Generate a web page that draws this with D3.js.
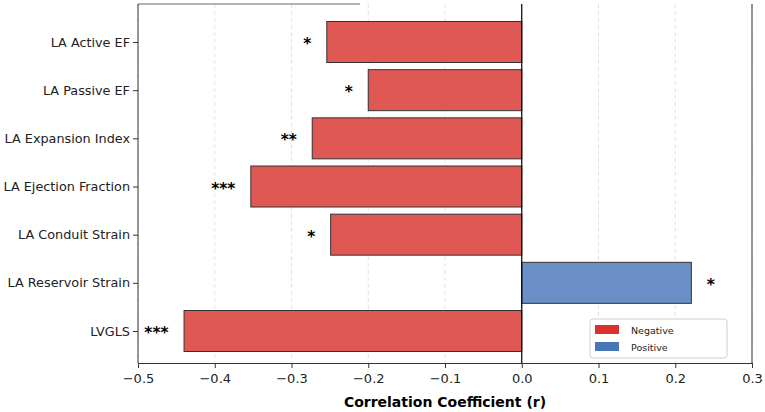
<!DOCTYPE html>
<html>
<head>
<meta charset="utf-8">
<script src="https://cdn.jsdelivr.net/npm/d3@7"></script>
<style>
  body { margin: 0; background: #fff; }
  svg { font-family: "DejaVu Sans", sans-serif; }
</style>
</head>
<body>
<div id="chart"></div>
<script>
// data
const labels = ["LA Active EF", "LA Passive EF", "LA Expansion Index", "LA Ejection Fraction",
                "LA Conduit Strain", "LA Reservoir Strain", "LVGLS"];
const values = [-0.254, -0.200, -0.273, -0.353, -0.249, 0.221, -0.440];
const stars = ["*", "*", "**", "***", "*", "*", "***"];
const xTicks = [-0.5, -0.4, -0.3, -0.2, -0.1, 0.0, 0.1, 0.2, 0.3];

const width = 765;
const height = 412;
const plot = { left: 138, right: 752, top: 4, bottom: 363 };
const font = "DejaVu Sans, sans-serif";

const svg = d3.select("#chart").append("svg")
  .attr("width", width)
  .attr("height", height);

const xScale = d3.scaleLinear().domain([-0.5, 0.3]).range([plot.left, plot.right]);
const yScale = d3.scaleLinear().domain([0, 6]).range([42, 331]);
const barH = 41;

// grid
svg.append("g")
  .selectAll("line")
  .data(xTicks)
  .join("line")
  .attr("x1", d => xScale(d)).attr("x2", d => xScale(d))
  .attr("y1", plot.top).attr("y2", plot.bottom)
  .attr("stroke", "#dcdcdc")
  .attr("stroke-dasharray", "4,3")
  .attr("stroke-width", 0.8);

// bars
svg.append("g")
  .selectAll("rect")
  .data(values)
  .join("rect")
  .attr("x", d => xScale(Math.min(0, d)))
  .attr("y", (d, i) => yScale(i) - barH / 2)
  .attr("width", d => Math.abs(xScale(d) - xScale(0)))
  .attr("height", barH)
  .attr("fill", d => d < 0 ? "#e05853" : "#6a8fc6")
  .attr("stroke", "#333")
  .attr("stroke-width", 1);

// significance stars
svg.append("g")
  .selectAll("text")
  .data(values)
  .join("text")
  .attr("x", d => d < 0 ? xScale(d - 0.02) : xScale(d + 0.02))
  .attr("y", (d, i) => yScale(i) + 7)
  .attr("text-anchor", d => d < 0 ? "end" : "start")
  .attr("font-size", 15.5)
  .attr("font-weight", "bold")
  .text((d, i) => stars[i]);

// zero line
svg.append("line")
  .attr("x1", xScale(0)).attr("x2", xScale(0))
  .attr("y1", plot.top).attr("y2", plot.bottom)
  .attr("stroke", "#000").attr("stroke-width", 1.2);

// frame
svg.append("line")
  .attr("x1", plot.left).attr("x2", 360)
  .attr("y1", plot.top).attr("y2", plot.top)
  .attr("stroke", "#999").attr("stroke-width", 1.5);
svg.append("line")
  .attr("x1", plot.left).attr("x2", plot.left)
  .attr("y1", plot.top).attr("y2", plot.bottom)
  .attr("stroke", "#333").attr("stroke-width", 1);
svg.append("line")
  .attr("x1", plot.right).attr("x2", plot.right)
  .attr("y1", plot.top).attr("y2", plot.bottom)
  .attr("stroke", "#333").attr("stroke-width", 1);

// x axis
const xAxis = svg.append("g")
  .attr("transform", `translate(0,${plot.bottom})`)
  .call(d3.axisBottom(xScale).tickValues(xTicks).tickSize(5).tickSizeOuter(0)
    .tickFormat(d => d3.format(".1f")(d).replace("-", "\u2212")));
xAxis.attr("font-family", font);
xAxis.select(".domain").attr("stroke", "#333");
xAxis.selectAll("text").attr("font-size", 13).attr("fill", "#222").attr("dy", "0.9em");
xAxis.selectAll(".tick line").attr("stroke", "#333");

// y axis
const yAxis = svg.append("g")
  .attr("transform", `translate(${plot.left},0)`)
  .call(d3.axisLeft(yScale).tickValues(d3.range(labels.length)).tickSize(5)
    .tickFormat(i => labels[i]));
yAxis.attr("font-family", font);
yAxis.select(".domain").remove();
yAxis.selectAll("text").attr("font-size", 12.8).attr("fill", "#222");
yAxis.selectAll(".tick line").attr("stroke", "#333");

// x axis title
svg.append("text")
  .attr("x", (plot.left + plot.right) / 2)
  .attr("y", 407)
  .attr("text-anchor", "middle")
  .attr("font-size", 14)
  .attr("font-weight", "bold")
  .text("Correlation Coefficient (r)");

// legend
const legendItems = [
  { name: "Negative", color: "#d9312b" },
  { name: "Positive", color: "#4775b6" },
];
const legend = svg.append("g").attr("transform", "translate(590,319)");
legend.append("rect")
  .attr("width", 137).attr("height", 39)
  .attr("rx", 3)
  .attr("fill", "#fff").attr("stroke", "#d0d0d0");
legend.selectAll("g.item")
  .data(legendItems)
  .join("g")
  .attr("class", "item")
  .attr("transform", (d, i) => `translate(5,${6 + i * 17})`)
  .each(function (d) {
    const g = d3.select(this);
    g.append("rect").attr("width", 24).attr("height", 9).attr("fill", d.color);
    g.append("text").attr("x", 36).attr("y", 8.5)
      .attr("font-size", 9.5).attr("fill", "#222").text(d.name);
  });
</script>
</body>
</html>
